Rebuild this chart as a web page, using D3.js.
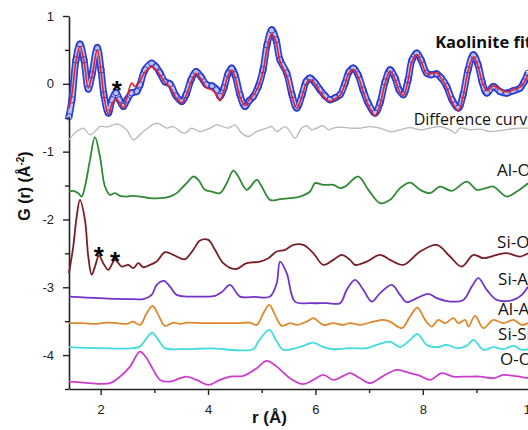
<!DOCTYPE html>
<html><head><meta charset="utf-8">
<script src="https://cdn.jsdelivr.net/npm/d3@7"></script>
<style>
html,body{margin:0;padding:0;background:#fff;}
svg{display:block;}
</style></head><body>
<svg id="chart" width="528" height="430"></svg>
<script>
// Pair distribution function G(r) of kaolinite: measured data, fit, difference and partial pair contributions (offset)
const kaoliniteData = [[1.409,-0.487],[1.465,-0.236],[1.540,0.354],[1.614,0.586],[1.689,0.354],[1.769,-0.078],[1.838,0.133],[1.937,0.535],[2.006,0.206],[2.061,-0.162],[2.142,-0.432],[2.211,-0.236],[2.285,-0.128],[2.350,-0.236],[2.421,-0.335],[2.490,-0.236],[2.578,-0.133],[2.671,-0.114],[2.732,-0.015],[2.825,0.206],[2.950,0.305],[3.030,0.251],[3.105,0.162],[3.198,0.029],[3.291,0.000],[3.403,-0.177],[3.509,-0.261],[3.589,-0.162],[3.683,0.059],[3.776,0.181],[3.869,0.103],[3.975,-0.015],[4.068,-0.029],[4.161,-0.088],[4.223,-0.187],[4.298,-0.059],[4.372,0.147],[4.441,0.232],[4.502,0.133],[4.595,-0.162],[4.688,-0.335],[4.763,-0.251],[4.843,-0.187],[4.936,-0.040],[5.024,0.206],[5.099,0.575],[5.186,0.796],[5.266,0.649],[5.341,0.354],[5.466,0.158],[5.564,-0.162],[5.652,-0.358],[5.751,-0.162],[5.825,0.029],[5.900,0.084],[5.993,0.015],[6.086,-0.088],[6.179,-0.177],[6.273,-0.236],[6.366,-0.206],[6.459,-0.162],[6.552,0.010],[6.627,0.177],[6.707,0.232],[6.794,0.133],[6.887,-0.088],[6.981,-0.280],[7.111,-0.432],[7.204,-0.280],[7.297,0.029],[7.391,0.206],[7.484,0.088],[7.558,-0.088],[7.638,-0.162],[7.726,0.059],[7.800,0.354],[7.888,0.453],[7.968,0.354],[8.074,0.157],[8.154,0.133],[8.261,0.147],[8.341,0.088],[8.447,-0.040],[8.546,-0.236],[8.663,-0.358],[8.751,-0.162],[8.844,0.206],[8.943,0.428],[9.030,0.280],[9.105,0.029],[9.192,-0.137],[9.315,-0.040],[9.440,-0.114],[9.565,-0.137],[9.682,-0.103],[9.813,-0.063],[9.887,0.029],[9.962,0.157]];

const kaoliniteFit = [[1.409,-0.36],[1.465,-0.15],[1.540,0.33],[1.614,0.55],[1.689,0.33],[1.769,-0.06],[1.838,0.12],[1.937,0.50],[2.006,0.18],[2.061,-0.18],[2.142,-0.45],[2.211,-0.30],[2.285,-0.22],[2.350,-0.28],[2.421,-0.36],[2.490,-0.20],[2.578,0.01],[2.640,-0.04],[2.700,0.00],[2.825,0.17],[2.950,0.25],[3.030,0.21],[3.105,0.13],[3.198,0.02],[3.291,-0.05],[3.403,-0.20],[3.509,-0.28],[3.589,-0.18],[3.683,0.03],[3.776,0.15],[3.869,0.07],[3.975,-0.06],[4.068,-0.09],[4.161,-0.16],[4.223,-0.25],[4.298,-0.09],[4.372,0.12],[4.441,0.20],[4.502,0.10],[4.595,-0.19],[4.688,-0.32],[4.763,-0.24],[4.843,-0.17],[4.936,-0.04],[5.024,0.18],[5.099,0.52],[5.186,0.74],[5.266,0.62],[5.341,0.33],[5.466,0.12],[5.564,-0.19],[5.652,-0.36],[5.751,-0.18],[5.825,0.00],[5.900,0.06],[5.993,0.00],[6.086,-0.12],[6.179,-0.21],[6.273,-0.26],[6.366,-0.22],[6.459,-0.17],[6.552,0.00],[6.627,0.16],[6.707,0.21],[6.794,0.11],[6.887,-0.11],[6.981,-0.31],[7.111,-0.47],[7.204,-0.30],[7.297,0.01],[7.391,0.19],[7.484,0.07],[7.558,-0.10],[7.638,-0.17],[7.726,0.05],[7.800,0.33],[7.888,0.43],[7.968,0.33],[8.074,0.15],[8.154,0.15],[8.261,0.16],[8.341,0.08],[8.447,-0.06],[8.546,-0.27],[8.663,-0.39],[8.751,-0.18],[8.844,0.19],[8.943,0.40],[9.030,0.26],[9.105,0.03],[9.192,-0.10],[9.315,-0.03],[9.440,-0.08],[9.565,-0.12],[9.682,-0.09],[9.813,-0.05],[9.887,0.02],[9.962,0.14]];

const differenceCurve = [[1.409,-0.826],[1.553,-0.704],[1.676,-0.653],[1.801,-0.752],[1.925,-0.678],[1.987,-0.630],[2.136,-0.634],[2.298,-0.590],[2.484,-0.678],[2.607,-0.826],[2.794,-0.704],[3.043,-0.580],[3.230,-0.653],[3.353,-0.630],[3.478,-0.704],[3.571,-0.727],[3.696,-0.653],[3.850,-0.704],[4.037,-0.653],[4.161,-0.605],[4.378,-0.653],[4.502,-0.605],[4.627,-0.727],[4.750,-0.777],[4.907,-0.704],[5.093,-0.653],[5.186,-0.630],[5.279,-0.704],[5.434,-0.630],[5.527,-0.704],[5.620,-0.801],[5.745,-0.653],[5.838,-0.619],[5.931,-0.678],[6.025,-0.653],[6.148,-0.619],[6.241,-0.678],[6.334,-0.653],[6.459,-0.639],[6.645,-0.653],[6.831,-0.653],[7.018,-0.630],[7.204,-0.653],[7.391,-0.704],[7.577,-0.678],[7.763,-0.645],[7.950,-0.678],[8.136,-0.653],[8.322,-0.630],[8.509,-0.678],[8.602,-0.727],[8.695,-0.653],[8.881,-0.678],[9.068,-0.668],[9.254,-0.704],[9.440,-0.689],[9.627,-0.668],[9.813,-0.653],[9.962,-0.653]];

const pairAlO = [[1.409,-1.588],[1.489,-1.578],[1.583,-1.612],[1.646,-1.662],[1.707,-1.515],[1.801,-1.121],[1.894,-0.786],[1.987,-1.072],[2.080,-1.515],[2.173,-1.637],[2.266,-1.612],[2.360,-1.652],[2.484,-1.662],[2.607,-1.652],[2.732,-1.662],[2.919,-1.686],[3.105,-1.686],[3.291,-1.662],[3.416,-1.612],[3.478,-1.563],[3.602,-1.465],[3.725,-1.367],[3.819,-1.416],[3.943,-1.563],[4.068,-1.588],[4.223,-1.612],[4.348,-1.465],[4.471,-1.279],[4.564,-1.367],[4.720,-1.563],[4.907,-1.416],[5.000,-1.515],[5.155,-1.711],[5.341,-1.701],[5.527,-1.686],[5.714,-1.662],[5.900,-1.588],[5.993,-1.465],[6.148,-1.490],[6.334,-1.490],[6.459,-1.538],[6.552,-1.515],[6.800,-1.367],[6.986,-1.563],[7.204,-1.760],[7.391,-1.711],[7.577,-1.538],[7.763,-1.456],[7.950,-1.563],[8.136,-1.612],[8.322,-1.515],[8.540,-1.578],[8.819,-1.441],[9.006,-1.563],[9.192,-1.534],[9.315,-1.515],[9.565,-1.662],[9.751,-1.588],[9.962,-1.465]];

const pairSiO = [[1.409,-2.792],[1.489,-2.400],[1.553,-1.957],[1.614,-1.711],[1.707,-2.006],[1.769,-2.547],[1.832,-2.817],[1.894,-2.695],[1.968,-2.532],[2.048,-2.645],[2.142,-2.743],[2.266,-2.596],[2.391,-2.695],[2.514,-2.670],[2.607,-2.718],[2.701,-2.645],[2.794,-2.704],[2.919,-2.670],[3.043,-2.621],[3.198,-2.482],[3.353,-2.522],[3.478,-2.571],[3.571,-2.586],[3.725,-2.448],[3.850,-2.311],[4.005,-2.301],[4.130,-2.448],[4.284,-2.645],[4.502,-2.733],[4.720,-2.645],[4.968,-2.621],[5.123,-2.571],[5.279,-2.473],[5.434,-2.448],[5.589,-2.375],[5.775,-2.375],[5.961,-2.497],[6.148,-2.670],[6.334,-2.596],[6.490,-2.522],[6.645,-2.596],[6.738,-2.670],[6.956,-2.621],[7.204,-2.522],[7.391,-2.596],[7.638,-2.670],[7.949,-2.473],[8.261,-2.375],[8.508,-2.547],[8.726,-2.695],[8.943,-2.522],[9.129,-2.571],[9.378,-2.522],[9.565,-2.497],[9.813,-2.547],[9.962,-2.497]];

const pairSiAl = [[1.409,-3.137],[1.739,-3.152],[1.987,-3.161],[2.298,-3.171],[2.607,-3.175],[2.794,-3.175],[2.950,-3.112],[3.043,-2.965],[3.179,-2.906],[3.291,-2.990],[3.416,-3.112],[3.602,-3.137],[3.850,-3.137],[4.130,-3.127],[4.260,-3.068],[4.409,-2.965],[4.595,-3.137],[4.875,-3.142],[5.155,-3.137],[5.279,-2.940],[5.341,-2.621],[5.466,-2.792],[5.620,-3.211],[5.900,-3.234],[6.211,-3.234],[6.459,-3.234],[6.584,-3.038],[6.738,-2.891],[6.893,-3.038],[7.049,-3.211],[7.204,-3.087],[7.422,-2.965],[7.577,-3.112],[7.702,-3.220],[7.888,-3.161],[8.104,-3.097],[8.261,-3.161],[8.508,-3.211],[8.756,-3.186],[8.913,-2.990],[9.036,-2.866],[9.192,-3.038],[9.378,-3.186],[9.688,-3.186],[9.844,-3.112],[9.962,-2.990]];

const pairAlAl = [[1.409,-3.529],[1.676,-3.529],[1.925,-3.540],[2.112,-3.521],[2.298,-3.529],[2.484,-3.540],[2.607,-3.506],[2.732,-3.555],[2.857,-3.382],[2.969,-3.274],[3.073,-3.407],[3.198,-3.569],[3.353,-3.521],[3.478,-3.540],[3.602,-3.521],[3.912,-3.529],[4.223,-3.529],[4.534,-3.529],[4.782,-3.521],[4.907,-3.555],[5.030,-3.382],[5.141,-3.260],[5.248,-3.407],[5.372,-3.569],[5.527,-3.529],[5.652,-3.555],[5.838,-3.506],[5.961,-3.456],[6.148,-3.555],[6.334,-3.529],[6.520,-3.555],[6.645,-3.529],[6.831,-3.555],[7.079,-3.506],[7.266,-3.481],[7.391,-3.506],[7.608,-3.603],[7.763,-3.432],[7.899,-3.299],[8.043,-3.481],[8.167,-3.580],[8.290,-3.481],[8.415,-3.529],[8.570,-3.456],[8.663,-3.529],[8.788,-3.481],[8.849,-3.580],[8.974,-3.422],[9.129,-3.603],[9.315,-3.481],[9.501,-3.529],[9.688,-3.481],[9.844,-3.555],[9.962,-3.529]];

const pairSiSi = [[1.409,-3.883],[1.987,-3.898],[2.607,-3.898],[2.732,-3.875],[2.857,-3.751],[2.961,-3.668],[3.073,-3.776],[3.198,-3.898],[3.478,-3.913],[4.037,-3.901],[4.843,-3.913],[4.936,-3.801],[5.141,-3.628],[5.279,-3.801],[5.402,-3.923],[5.559,-3.913],[5.775,-3.864],[5.961,-3.816],[6.148,-3.883],[6.334,-3.913],[6.645,-3.898],[6.956,-3.898],[7.143,-3.850],[7.391,-3.801],[7.577,-3.883],[7.763,-3.776],[7.899,-3.687],[8.074,-3.850],[8.261,-3.883],[8.447,-3.850],[8.633,-3.898],[8.819,-3.864],[8.943,-3.776],[9.129,-3.923],[9.315,-3.883],[9.501,-3.913],[9.688,-3.864],[9.844,-3.923],[9.962,-3.913]];

const pairOO = [[1.409,-4.391],[1.676,-4.406],[1.987,-4.425],[2.173,-4.414],[2.360,-4.317],[2.546,-4.170],[2.732,-3.948],[2.857,-4.046],[2.980,-4.218],[3.105,-4.366],[3.291,-4.391],[3.478,-4.341],[3.602,-4.317],[3.789,-4.366],[4.005,-4.440],[4.223,-4.366],[4.409,-4.317],[4.657,-4.307],[4.907,-4.193],[5.093,-4.086],[5.279,-4.170],[5.527,-4.341],[5.775,-4.429],[5.961,-4.366],[6.148,-4.292],[6.334,-4.366],[6.520,-4.307],[6.645,-4.267],[6.831,-4.341],[7.018,-4.414],[7.266,-4.307],[7.515,-4.218],[7.763,-4.267],[7.950,-4.307],[8.136,-4.366],[8.354,-4.267],[8.570,-4.317],[8.819,-4.317],[9.068,-4.317],[9.315,-4.341],[9.501,-4.292],[9.688,-4.307],[9.962,-4.341]];

const xMajorTicks = [2, 4, 6, 8, 10];
const xMinorTicks = [3, 5, 7, 9];
const yMajorTicks = [-4, -3, -2, -1, 0, 1];
const yMinorTicks = [-4.5, -3.5, -2.5, -1.5, -0.5, 0.5];

const partialNames = ["Al-O", "Si-O", "Si-Al", "Al-Al", "Si-Si", "O-O"];
const partialSeries = [pairAlO, pairSiO, pairSiAl, pairAlAl, pairSiSi, pairOO];
const partialColors = ["#2f8a35", "#7a1e24", "#7433c9", "#e0872c", "#3fdbdf", "#cc3dcc"];
// label anchors in data units [r, G]
const partialLabelAt = [[9.384,-1.357],[9.384,-2.419],[9.403,-2.965],[9.403,-3.407],[9.403,-3.776],[9.440,-4.144]];
const starMarks = [[2.300,-0.01],[1.963,-2.45],[2.270,-2.53]];

const svg = d3.select("#chart");
const x = d3.scaleLinear().domain([1.41, 10.5]).range([69, 557]);
const y = d3.scaleLinear().domain([-4.5, 1]).range([389, 16]);
const line = d3.line().x(d => x(d[0])).y(d => y(d[1])).curve(d3.curveCatmullRom.alpha(0.5));

// axes
const ax = svg.append("g").attr("font-family", "'Liberation Sans', Arial, sans-serif");
ax.append("g").attr("transform", `translate(${x(1.41)},0)`)
  .call(d3.axisLeft(y).tickValues(yMajorTicks).tickFormat(d => String(d)).tickSize(6).tickPadding(9).tickSizeOuter(0));
ax.append("g").attr("transform", `translate(${x(1.41)},0)`)
  .call(d3.axisLeft(y).tickValues(yMinorTicks).tickFormat("").tickSize(4).tickSizeOuter(0))
  .select(".domain").remove();
ax.append("g").attr("transform", `translate(0,${y(-4.5)})`)
  .call(d3.axisBottom(x).tickValues(xMajorTicks).tickFormat(d => String(d)).tickSize(6).tickPadding(10).tickSizeOuter(0));
ax.append("g").attr("transform", `translate(0,${y(-4.5)})`)
  .call(d3.axisBottom(x).tickValues(xMinorTicks).tickFormat("").tickSize(4).tickSizeOuter(0))
  .select(".domain").remove();
ax.selectAll(".domain").attr("stroke", "#222").attr("stroke-width", 1.6);
ax.selectAll(".tick line").attr("stroke", "#222").attr("stroke-width", 1.4);
ax.selectAll(".tick text").attr("font-size", 13).attr("fill", "#222");

// curves
const plot = svg.append("g");
plot.append("path").datum(differenceCurve).attr("d", line)
  .attr("fill", "none").attr("stroke", "#b8b8b8").attr("stroke-width", 1.3);
partialSeries.forEach((s, i) => {
  plot.append("path").datum(s).attr("d", line)
    .attr("fill", "none").attr("stroke", partialColors[i]).attr("stroke-width", 1.8);
});
// measured data: dense open circles drawn as a ringed band
plot.append("path").datum(kaoliniteData).attr("d", line)
  .attr("fill", "none").attr("stroke", "#2e3fd6").attr("stroke-width", 7).attr("stroke-linejoin", "round");
plot.append("path").datum(kaoliniteData).attr("d", line)
  .attr("fill", "none").attr("stroke", "#b9c0f2").attr("stroke-width", 3.6);
plot.selectAll("circle.obs").data(kaoliniteData).join("circle").attr("class", "obs")
  .attr("cx", d => x(d[0])).attr("cy", d => y(d[1])).attr("r", 3.2)
  .attr("fill", "none").attr("stroke", "#2433c8").attr("stroke-width", 0.9);
plot.append("path").datum(kaoliniteFit).attr("d", line)
  .attr("fill", "none").attr("stroke", "#e3222c").attr("stroke-width", 1.6);

// annotations
const lab = svg.append("g").attr("font-family", "'Open Sans', Lato, sans-serif").attr("fill", "#111");
lab.append("text").attr("x", x(8.23)).attr("y", y(0.53)).attr("font-size", 16.5).attr("font-weight", "bold").text("Kaolinite fit");
lab.append("text").attr("x", x(7.83)).attr("y", y(-0.605)).attr("font-size", 16).text("Difference curve");
partialNames.forEach((n, i) => {
  lab.append("text").attr("x", x(partialLabelAt[i][0])).attr("y", y(partialLabelAt[i][1])).attr("font-size", 17).text(n);
});
svg.selectAll("text.star").data(starMarks).join("text").attr("class", "star")
  .attr("x", d => x(d[0])).attr("y", d => y(d[1]) + 15).attr("text-anchor", "middle")
  .attr("font-family", "'Liberation Sans', Arial, sans-serif").attr("font-weight", "bold").attr("font-size", 26).text("*");

// axis titles
const titles = svg.append("g").attr("font-family", "'Liberation Sans', Arial, sans-serif").attr("font-weight", "bold").attr("fill", "#111");
titles.append("text").attr("x", 269.5).attr("y", 423).attr("text-anchor", "middle").attr("font-size", 17).text("r (Å)");
const yt = titles.append("text").attr("transform", "translate(30,186) rotate(-90)").attr("text-anchor", "middle").attr("font-size", 16);
yt.append("tspan").text("G (r) (Å");
yt.append("tspan").attr("font-size", 10).attr("dy", -6).text("-2");
yt.append("tspan").attr("dy", 6).text(")");
</script>
</body></html>
